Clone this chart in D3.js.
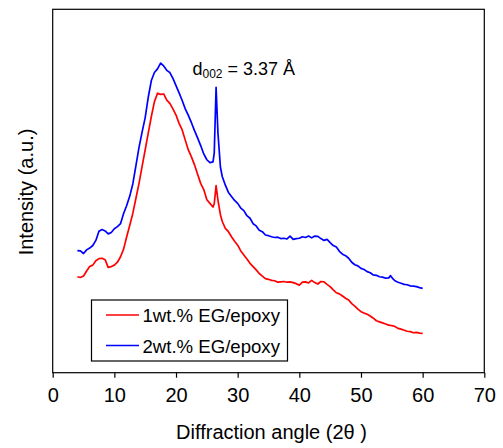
<!DOCTYPE html>
<html>
<head>
<meta charset="utf-8">
<script src="https://cdn.jsdelivr.net/npm/d3@7"></script>
<style>
  body { margin: 0; background: #fff; }
  text { font-family: "Liberation Sans", Arial, sans-serif; fill: #000; }
</style>
</head>
<body>
<div id="chart"></div>
<script>
// 2theta positions (deg)
var angles = [
  4, 4.5, 5, 5.5, 6, 6.5, 7, 7.5, 8, 8.5, 9, 9.5, 10, 10.5, 11, 11.5, 12, 12.5, 13, 13.5,
  14, 14.5, 15, 15.5, 16, 16.5, 17, 17.5, 18, 18.5, 19, 19.5, 20, 20.5, 21, 21.5, 22, 22.5,
  23, 23.5, 24, 24.5, 25, 25.5, 26, 26.2, 26.5, 26.8, 27.2,
  27.5, 28, 28.5, 29, 29.5, 30, 30.5, 31, 31.5, 32, 32.5, 33, 33.5, 34, 34.5, 35, 35.5,
  36, 36.5, 37, 37.5, 38, 38.5, 39, 39.5, 40, 40.5, 41, 41.5, 42, 42.5, 43, 43.5, 44, 44.5,
  45, 45.5, 46, 46.5, 47, 47.5, 48, 48.5, 49, 49.5, 50, 50.5, 51, 51.5, 52, 52.5, 53, 53.5,
  54, 54.5, 54.8, 55.2, 55.5, 56, 56.5, 57, 57.5, 58, 58.5, 59, 59.5, 60];
// intensity (a.u.), 0 = bottom of frame, 100 = top
var eg1 = [
  26.4, 26.2, 26.6, 28.0, 29.2, 29.6, 30.8, 31.4, 31.5, 31.1, 29.0, 29.2, 29.6, 30.4, 31.9, 34.0, 37.4, 40.6, 43.9, 48.0,
  52.1, 56.8, 61.3, 66.0, 70.5, 74.6, 76.9, 76.6, 76.7, 75.0, 74.1, 72.6, 70.9, 68.6, 66.8, 64.0, 61.3, 59.4,
  57.2, 54.6, 52.1, 50.4, 47.6, 46.6, 45.6, 46.5, 51.5, 47.5, 43.5,
  41.6, 39.7, 38.8, 37.4, 36.2, 35.1, 33.5, 32.4, 31.3, 30.1, 29.2, 28.3, 27.3, 26.6, 25.9, 25.7, 25.4,
  25.3, 24.9, 25.0, 25.1, 24.9, 25.0, 24.8, 24.5, 24.1, 24.9, 25.0, 24.7, 25.4, 24.8, 24.4, 25.1, 25.0, 24.3,
  23.7, 22.8, 22.0, 21.7, 21.1, 20.5, 20.0, 19.0, 18.3, 17.5, 16.8, 16.4, 16.1, 15.6, 15.0, 14.3, 14.0, 13.7,
  13.4, 13.1, 13.0, 12.9, 12.7, 12.2, 12.0, 11.7, 11.4, 11.3, 11.0, 11.1, 10.9, 10.8];
var eg2 = [
  33.6, 33.5, 32.8, 33.8, 34.3, 35.0, 36.4, 38.9, 39.4, 39.0, 38.2, 38.6, 39.6, 40.2, 41.0, 43.8, 46.0, 48.6, 52.0, 57.0,
  62.0, 66.2, 70.2, 75.8, 80.4, 82.6, 83.6, 85.2, 84.4, 83.2, 82.6, 81.0, 79.0, 77.0, 74.9, 72.6, 70.8, 68.8,
  66.6, 64.6, 62.5, 60.2, 58.6, 57.8, 58.0, 60.4, 78.5, 66.0, 56.6,
  54.0, 51.6, 49.6, 48.5, 47.4, 46.6, 45.3, 44.6, 43.2, 42.5, 41.0, 40.4, 39.2, 38.8, 37.9, 37.7, 37.4,
  37.2, 37.3, 36.9, 37.0, 36.8, 37.6, 36.7, 36.9, 37.0, 37.4, 37.2, 37.6, 37.1, 37.6, 37.5, 36.9, 36.4, 36.7,
  35.8, 35.0, 34.6, 33.4, 32.6, 32.2, 31.5, 30.4, 29.7, 29.4, 28.7, 28.4, 27.8, 27.5, 26.9, 26.8, 26.4, 26.3,
  26.0, 26.1, 26.7, 25.8, 25.3, 24.9, 24.6, 24.3, 24.2, 23.9, 23.8, 23.7, 23.4, 23.2];
var seriesNames = ["1wt.% EG/epoxy", "2wt.% EG/epoxy"];
var seriesColors = ["#ff0000", "#0000ff"];
var xTicks = [0, 10, 20, 30, 40, 50, 60, 70];

var W = 503, H = 448;
var M = {left: 52.7, right: 18.7, top: 9.3, bottom: 75.3};

var svg = d3.select("#chart").append("svg")
    .attr("width", W).attr("height", H);

var x = d3.scaleLinear().domain([0, 70]).range([M.left, W - M.right]);
var y = d3.scaleLinear().domain([0, 100]).range([H - M.bottom, M.top]);

// frame
svg.append("rect")
  .attr("x", x(0)).attr("y", y(100))
  .attr("width", x(70) - x(0)).attr("height", y(0) - y(100))
  .attr("fill", "none").attr("stroke", "#000").attr("stroke-width", 1.2);

// x axis
var xAxis = svg.append("g")
  .attr("transform", "translate(0," + y(0) + ")")
  .call(d3.axisBottom(x).tickValues(xTicks).tickSize(5).tickPadding(10));
xAxis.select(".domain").remove();
xAxis.selectAll("line").attr("stroke", "#000").attr("stroke-width", 1.2);
xAxis.selectAll("text")
  .style("font-family", "Liberation Sans, Arial, sans-serif")
  .style("font-size", "20px");

svg.append("text")
  .attr("x", (x(0) + x(70)) / 2 + 3).attr("y", 439)
  .attr("text-anchor", "middle")
  .style("font-size", "20px")
  .text("Diffraction angle (2θ )");

svg.append("text")
  .attr("transform", "translate(33," + 192 + ") rotate(-90)")
  .attr("text-anchor", "middle")
  .style("font-size", "20px")
  .text("Intensity (a.u.)");

// curves
var line = d3.line()
  .x(function(d){ return x(d[0]); })
  .y(function(d){ return y(d[1]); });

[eg1, eg2].forEach(function(vals, i){
  svg.append("path")
    .datum(angles.map(function(a, j){ return [a, vals[j]]; }))
    .attr("d", line)
    .attr("fill", "none")
    .attr("stroke", seriesColors[i])
    .attr("stroke-width", 1.7)
    .attr("stroke-linejoin", "round");
});

// annotation
var ann = svg.append("text")
  .attr("x", 192.5).attr("y", 75)
  .style("font-size", "18px");
ann.append("tspan").text("d");
ann.append("tspan").attr("dy", 3).style("font-size", "12px").text("002");
ann.append("tspan").attr("dy", -3).text(" = 3.37 Å");

// legend
var lg = svg.append("g");
lg.append("rect")
  .attr("x", 91.5).attr("y", 300)
  .attr("width", 196).attr("height", 61)
  .attr("fill", "#fff").attr("stroke", "#000").attr("stroke-width", 1.2);
seriesNames.forEach(function(name, i){
  var yy = 315 + i * 30.5;
  lg.append("line")
    .attr("x1", 106).attr("x2", 139)
    .attr("y1", yy).attr("y2", yy)
    .attr("stroke", seriesColors[i]).attr("stroke-width", 1.3);
  lg.append("text")
    .attr("x", 142.5).attr("y", yy + 7)
    .style("font-size", "18.6px")
    .text(name);
});
</script>
</body>
</html>
